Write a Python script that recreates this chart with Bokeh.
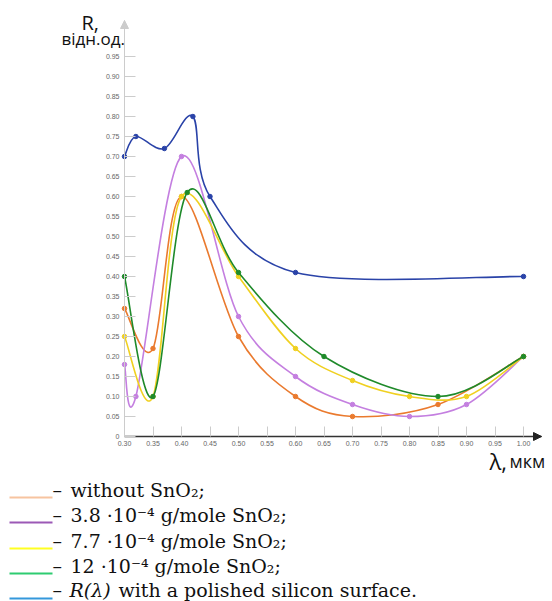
from bokeh.plotting import figure
from bokeh.models import Range1d, FixedTicker, NumeralTickFormatter, Label, Arrow, NormalHead, ColumnDataSource, LinearAxis
from bokeh.core.properties import value
from bokeh.embed import file_html
from bokeh.resources import INLINE

# ---- data ----
blue_x = [0.30, 0.32, 0.37, 0.42, 0.45, 0.60, 1.00]
blue_y = [0.70, 0.75, 0.72, 0.80, 0.60, 0.41, 0.40]

purple_x = [0.30, 0.32, 0.40, 0.50, 0.60, 0.70, 0.80, 0.90, 1.00]
purple_y = [0.18, 0.10, 0.70, 0.30, 0.15, 0.08, 0.05, 0.08, 0.20]

orange_x = [0.30, 0.35, 0.40, 0.50, 0.60, 0.70, 0.85, 1.00]
orange_y = [0.32, 0.22, 0.60, 0.25, 0.10, 0.05, 0.08, 0.20]

yellow_x = [0.30, 0.35, 0.40, 0.50, 0.60, 0.70, 0.80, 0.90, 1.00]
yellow_y = [0.25, 0.10, 0.60, 0.40, 0.22, 0.14, 0.10, 0.10, 0.20]

green_x = [0.30, 0.35, 0.41, 0.50, 0.65, 0.85, 1.00]
green_y = [0.40, 0.10, 0.61, 0.41, 0.20, 0.10, 0.20]

x_ticks = [0.30, 0.35, 0.40, 0.45, 0.50, 0.55, 0.60, 0.65, 0.70, 0.75, 0.80, 0.85, 0.90, 0.95, 1.00]
y_ticks = [0.0, 0.05, 0.10, 0.15, 0.20, 0.25, 0.30, 0.35, 0.40, 0.45, 0.50, 0.55, 0.60, 0.65,
           0.70, 0.75, 0.80, 0.85, 0.90, 0.95]

legend_labels = ["without SnO₂;", "3.8 ·10⁻⁴ g/mole SnO₂;", "7.7 ·10⁻⁴ g/mole SnO₂;",
                 "12 ·10⁻⁴ g/mole SnO₂;", "with a polished silicon surface."]
legend_colors = ["#f7c4a0", "#9b59b6", "#ffff22", "#2ecc71", "#3498db"]

series = [
    (orange_x, orange_y, "#ea7a2e"),
    (purple_x, purple_y, "#c47fe0"),
    (yellow_x, yellow_y, "#f0d020"),
    (green_x, green_y, "#1f8a2a"),
    (blue_x, blue_y, "#2a43a8"),
]

# ---- geometry (pixel frame = whole canvas) ----
W, H = 552, 601
AX_X, AX_Y = 124, 436      # pixel position of (0.30, 0)
XPX, YPX = 570.0, 400.0    # pixels per unit
X_TIP, Y_TIP = 541, 20     # arrow tips
TXT_SHIFT = 7              # rendered baseline lies this much below the anchor


def px2x(px):
    return 0.30 + (px - AX_X) / XPX


def px2y(py):
    return (AX_Y - py) / YPX


def base(py):
    return px2y(py - TXT_SHIFT)


def catmull_rom(xs, ys):
    n = len(xs)
    pts = list(zip(xs, ys))
    out = dict(x0=[], y0=[], x1=[], y1=[], cx0=[], cy0=[], cx1=[], cy1=[])
    for i in range(n - 1):
        p0 = pts[max(i - 1, 0)]
        p1 = pts[i]
        p2 = pts[i + 1]
        p3 = pts[min(i + 2, n - 1)]
        out["x0"].append(p1[0]); out["y0"].append(p1[1])
        out["x1"].append(p2[0]); out["y1"].append(p2[1])
        out["cx0"].append(p1[0] + (p2[0] - p0[0]) / 6.0)
        out["cy0"].append(p1[1] + (p2[1] - p0[1]) / 6.0)
        out["cx1"].append(p2[0] - (p3[0] - p1[0]) / 6.0)
        out["cy1"].append(p2[1] - (p3[1] - p1[1]) / 6.0)
    return out


p = figure(width=W, height=H, output_backend="svg", toolbar_location=None,
           x_range=Range1d(px2x(0), px2x(W)), y_range=Range1d(px2y(H), px2y(0)),
           x_axis_location=None, y_axis_location=None,
           min_border=0, min_border_left=0, min_border_right=0,
           min_border_top=0, min_border_bottom=0)
p.outline_line_color = None
p.grid.visible = False
p.background_fill_color = "white"
p.border_fill_color = "white"

xtip = px2x(X_TIP)
ytip = px2y(Y_TIP)

xaxis = LinearAxis(fixed_location=0.0, bounds=(0.30, xtip))
xaxis.ticker = FixedTicker(ticks=x_ticks)
xaxis.formatter = NumeralTickFormatter(format="0.00")
xaxis.axis_line_color = "#333333"
xaxis.axis_line_width = 1.5
xaxis.major_tick_in = 10
xaxis.major_tick_out = 0
xaxis.major_tick_line_color = "#cccccc"
xaxis.minor_tick_line_color = None
xaxis.major_label_text_font_size = "7px"
xaxis.major_label_text_color = "#666666"
xaxis.major_label_standoff = 4
p.add_layout(xaxis, "below")

yaxis = LinearAxis(fixed_location=0.30, bounds=(0.0, ytip))
yaxis.ticker = FixedTicker(ticks=y_ticks)
yaxis.formatter = NumeralTickFormatter(format="0.00")
yaxis.major_label_overrides = {0: "0"}
yaxis.axis_line_color = "#cccccc"
yaxis.major_tick_in = 11
yaxis.major_tick_out = 0
yaxis.major_tick_line_color = "#cccccc"
yaxis.minor_tick_line_color = None
yaxis.major_label_text_font_size = "7px"
yaxis.major_label_text_color = "#666666"
yaxis.major_label_standoff = 5
p.add_layout(yaxis, "left")

# arrow heads
p.add_layout(Arrow(end=NormalHead(size=8, fill_color="#222222", line_color="#222222"),
                   x_start=xtip - 0.012, y_start=0, x_end=xtip, y_end=0,
                   line_color="#333333", line_width=1.5))
p.add_layout(Arrow(end=NormalHead(size=8, fill_color="#cccccc", line_color="#cccccc"),
                   x_start=0.30, y_start=ytip - 0.02, x_end=0.30, y_end=ytip,
                   line_color="#cccccc", line_width=1))

# curves
for xs, ys, col in series:
    src = ColumnDataSource(catmull_rom(xs, ys))
    p.bezier(x0="x0", y0="y0", x1="x1", y1="y1", cx0="cx0", cy0="cy0", cx1="cx1", cy1="cy1",
             source=src, line_color=col, line_width=1.6)
    p.scatter(xs, ys, size=4.5, color=col)

# axis titles
p.add_layout(Label(x=px2x(81), y=base(29), text="R,", text_font="Open Sans",
                   text_font_size="20px", text_color="#111111", text_baseline="alphabetic"))
p.add_layout(Label(x=px2x(61), y=base(45), text="відн.од.", text_font="Open Sans",
                   text_font_size="17px", text_color="#111111", text_baseline="alphabetic"))
p.add_layout(Label(x=px2x(489), y=base(467), text="λ,", text_font="Open Sans",
                   text_font_size="22px", text_color="#111111", text_baseline="alphabetic"))
p.add_layout(Label(x=px2x(509), y=base(467), text="мкм", text_font="Open Sans",
                   text_font_size="18px", text_color="#111111", text_baseline="alphabetic"))

# ---- legend (below the chart) ----
row_px = [497, 522, 548, 573, 598]
text_base_px = [496, 521, 547, 572, 596]
row_y = [px2y(r) for r in row_px]
base_y = [base(r) for r in text_base_px]
p.segment(x0=[px2x(9)] * 5, y0=row_y, x1=[px2x(52)] * 5, y1=row_y,
          line_color=legend_colors, line_width=2)
p.text(x=[px2x(52)] * 5, y=base_y, text=["–"] * 5,
       text_font=value("DejaVu Serif"), text_font_size="19px", text_color="#111111",
       text_baseline="alphabetic")
text_px = [70, 70, 70, 70, 118]
p.text(x=[px2x(t) for t in text_px], y=base_y, text=legend_labels,
       text_font=value("DejaVu Serif"), text_font_size="19px", text_color="#111111",
       text_baseline="alphabetic")
p.text(x=[px2x(69)], y=[base_y[4]], text=["R(λ)"], text_font=value("DejaVu Serif"),
       text_font_size="19px", text_font_style="italic", text_color="#111111",
       text_baseline="alphabetic")

open("out.html", "w").write(file_html(p, INLINE))
